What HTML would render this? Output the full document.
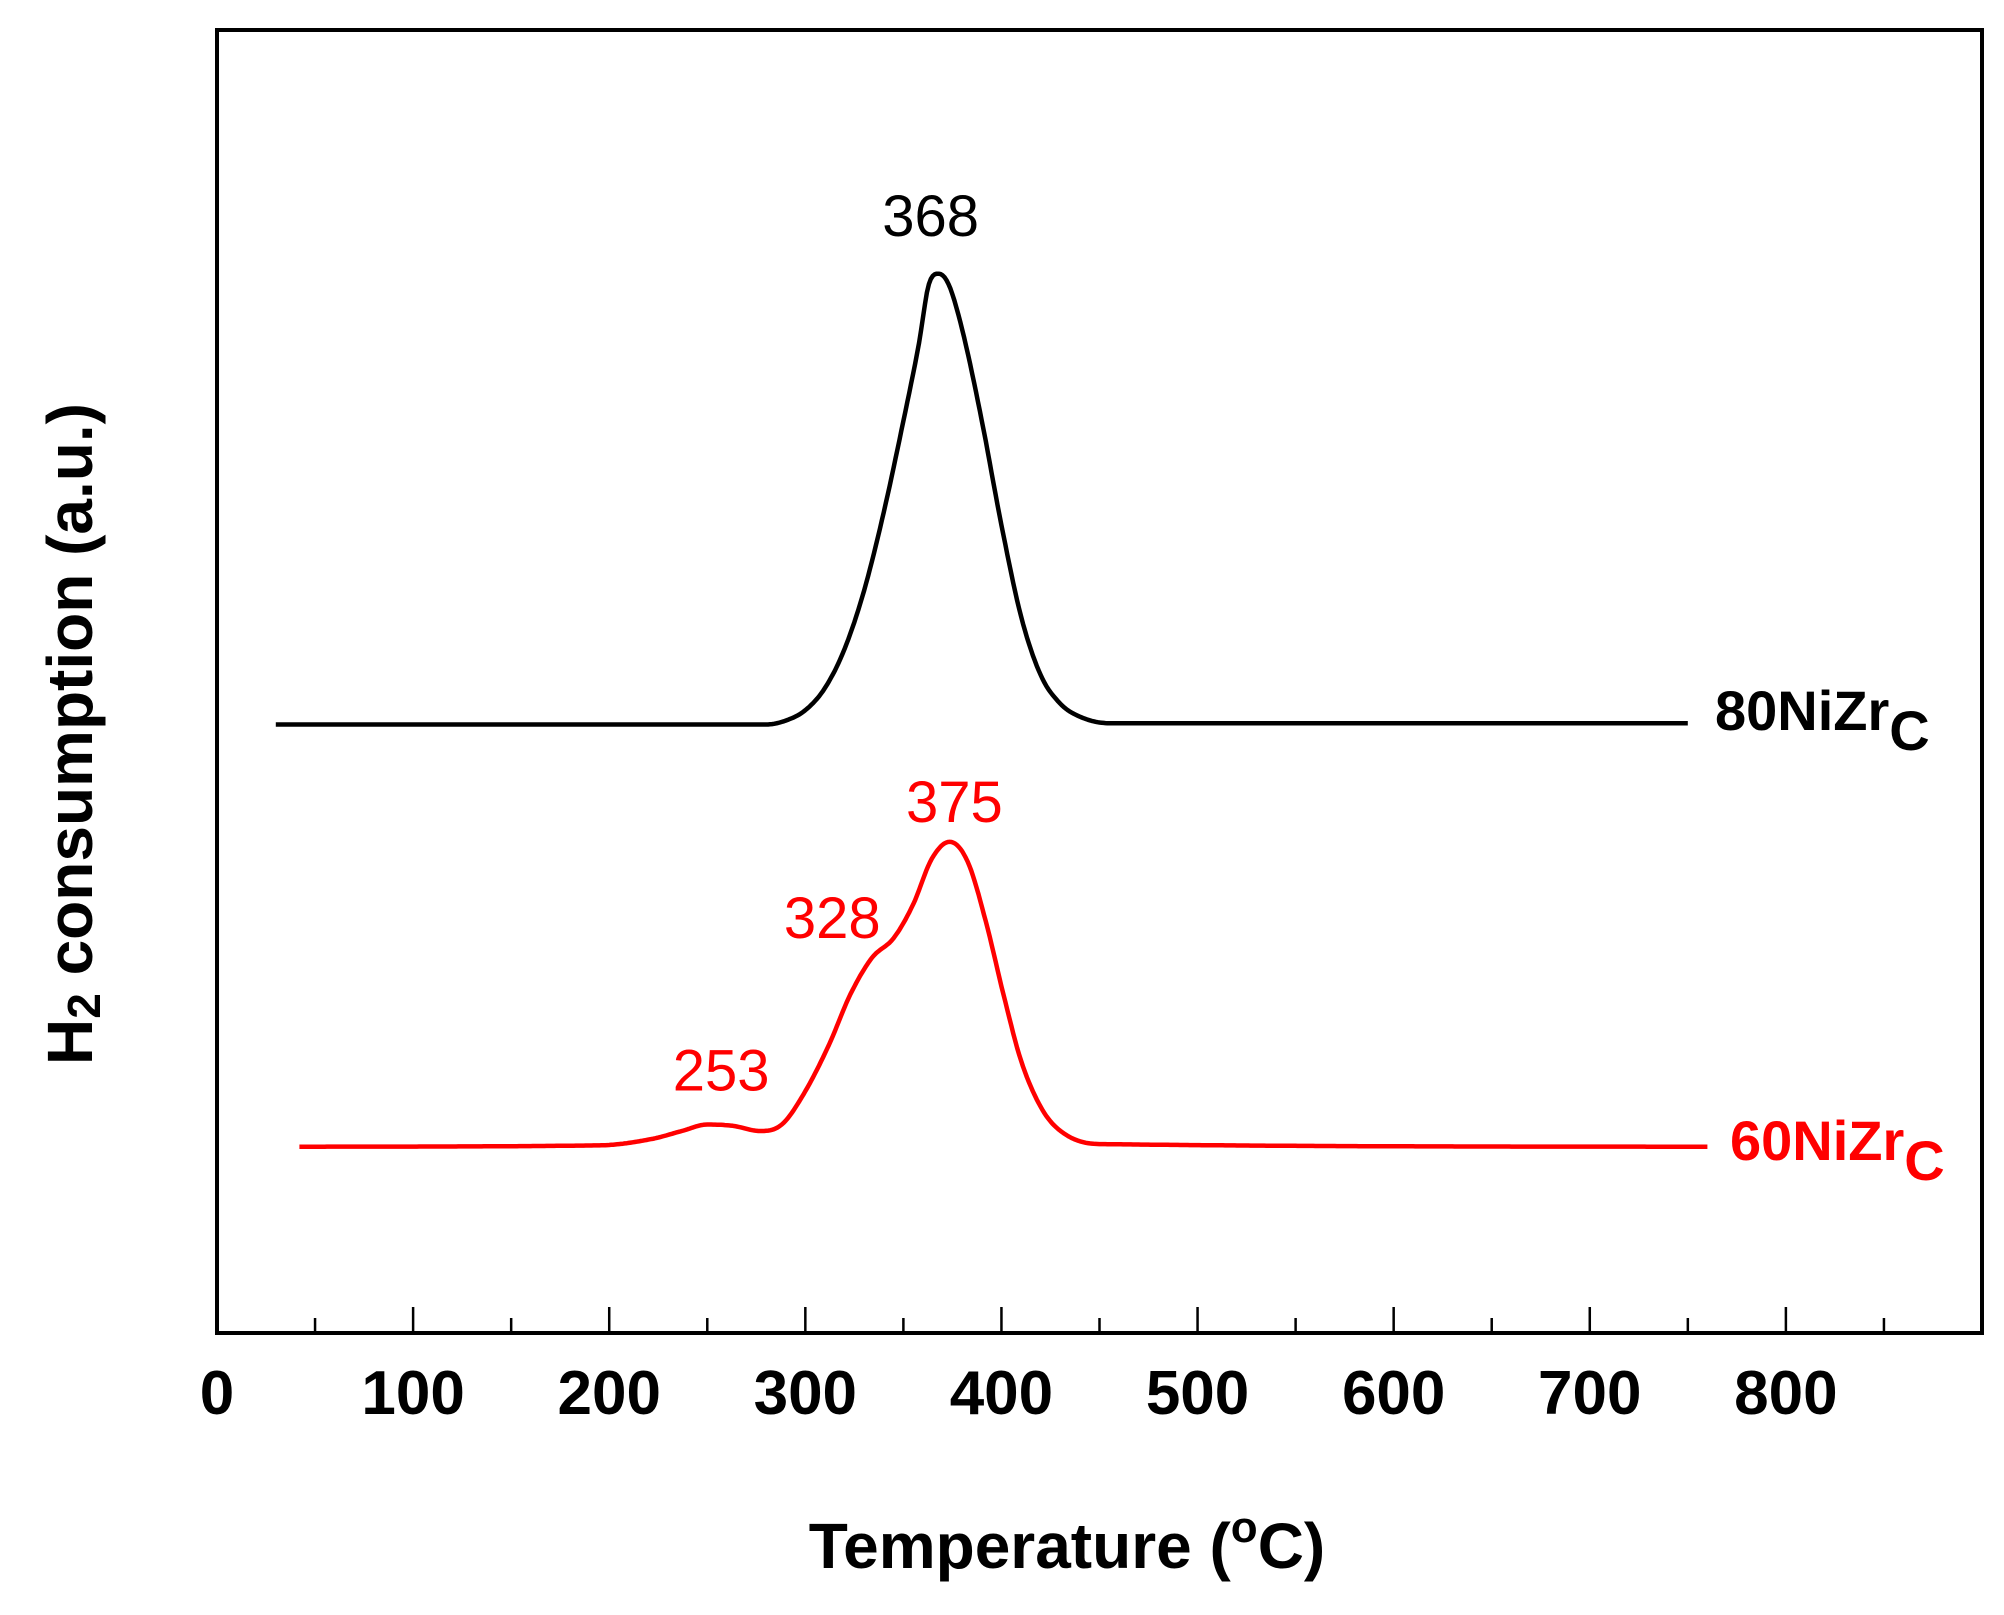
<!DOCTYPE html>
<html><head><meta charset="utf-8"><style>
html,body{margin:0;padding:0;background:#fff;}
svg{display:block;font-family:"Liberation Sans",Arial,sans-serif;}
</style></head><body>
<svg id="chart" width="2004" height="1615" viewBox="0 0 2004 1615">
<g id="axes"></g><g id="series"></g><g id="labels"></g>
<text x="70" y="734" transform="rotate(-90 70 734)" text-anchor="middle" dominant-baseline="central" font-size="64" font-weight="bold">H<tspan font-size="46" dy="14">2</tspan><tspan dy="-14"> consumption (a.u.)</tspan></text>
<text x="1067" y="1568" text-anchor="middle" font-size="64" font-weight="bold">Temperature (<tspan font-size="44" dy="-26">o</tspan><tspan dy="26">C)</tspan></text>
</svg>
<script>
const xTicks=[0,100,200,300,400,500,600,700,800];
const blackT=[30,280,290,300,310,320,330,340,350,358,363,368,373,380,390,400,410,420,430,440,455,750];
const blackY=[46.7,46.7,47.0,47.8,49.5,52.5,57,63,70,76,80.5,81.3,80.5,77,70,62,55,50.5,48.3,47.3,46.8,46.8];
const redT=[42,195,222,237,250,263,277,288,299,312,323,334,345,355,364.5,373.6,382.7,392,401,410,421,432,450,760];
const redY=[14.3,14.4,14.9,15.5,16.0,15.9,15.5,16.0,18.3,22.1,26.0,28.8,30.3,32.9,36.4,37.7,36.2,31.6,26,20.9,17.1,15.3,14.5,14.3];
const peakLabels=["368","375","328","253"];
const peakLabelT=[368,375,328,253];
const peakLabelY=[84.2,39.2,30.3,18.6];
const L=217,R=1982,T=30,B=1333,XMAX=900;
const sx=v=>L+v*(R-L)/XMAX, sy=v=>B-v*(B-T)/100;
const NS="http://www.w3.org/2000/svg";
function mk(tag,attrs,parent){const e=document.createElementNS(NS,tag);for(const k in attrs)e.setAttribute(k,attrs[k]);parent.appendChild(e);return e;}
const axes=document.getElementById('axes'),series=document.getElementById('series'),labels=document.getElementById('labels');
const frame=mk('rect',{x:L,y:T,width:R-L,height:B-T,fill:'none',stroke:'#000','stroke-width':4},axes);


for(let v=50;v<XMAX;v+=50){
  const major=v%100===0;
  const t=mk('line',{x1:sx(v),x2:sx(v),y1:B,y2:B-(major?26:15),stroke:'#000','stroke-width':2.5},axes);
  
  
}
xTicks.forEach(v=>{
  const t=mk('text',{x:sx(v),y:1414,'text-anchor':'middle','font-size':62,'font-weight':'bold'},labels);
  t.textContent=v;
  
  
});
// monotone cubic (Fritsch-Carlson) interpolation sampled into a polyline
function curve(xs,ys){
  const n=xs.length,d=[],m=new Array(n);
  for(let i=0;i<n-1;i++)d.push((ys[i+1]-ys[i])/(xs[i+1]-xs[i]));
  m[0]=d[0];m[n-1]=d[n-2];
  for(let i=1;i<n-1;i++)m[i]=(d[i-1]*d[i]<=0)?0:(d[i-1]+d[i])/2;
  for(let i=0;i<n-1;i++){
    if(d[i]===0){m[i]=0;m[i+1]=0;continue;}
    const a=m[i]/d[i],b=m[i+1]/d[i],s=a*a+b*b;
    if(s>9){const t=3/Math.sqrt(s);m[i]=t*a*d[i];m[i+1]=t*b*d[i];}
  }
  let path='M'+sx(xs[0]).toFixed(1)+','+sy(ys[0]).toFixed(1);
  for(let i=0;i<n-1;i++){
    const h=xs[i+1]-xs[i],steps=Math.max(2,Math.ceil(h/1));
    for(let k=1;k<=steps;k++){
      const t=k/steps,t2=t*t,t3=t2*t;
      const y=(2*t3-3*t2+1)*ys[i]+(t3-2*t2+t)*h*m[i]+(-2*t3+3*t2)*ys[i+1]+(t3-t2)*h*m[i+1];
      path+='L'+sx(xs[i]+t*h).toFixed(1)+','+sy(y).toFixed(1);
    }
  }
  return path;
}
const pb=mk('path',{d:curve(blackT,blackY),fill:'none',stroke:'#000','stroke-width':4.5,'stroke-linejoin':'round'},series);


const pr=mk('path',{d:curve(redT,redY),fill:'none',stroke:'#ff0000','stroke-width':4.5,'stroke-linejoin':'round'},series);


const offs=[-8,2,-28,8];
peakLabels.forEach((s,i)=>{
  const t=mk('text',{x:sx(peakLabelT[i])+offs[i],y:sy(peakLabelY[i]),'text-anchor':'middle','font-size':58,fill:i===0?'#000':'#ff0000'},labels);
  t.textContent=s;
  
  
});
const lb=mk('text',{x:1715,y:730,'font-size':56,'font-weight':'bold',fill:'#000'},labels);
lb.innerHTML='80NiZr<tspan dy="20">C</tspan>';


const lr=mk('text',{x:1730,y:1160,'font-size':56,'font-weight':'bold',fill:'#ff0000'},labels);
lr.innerHTML='60NiZr<tspan dy="20">C</tspan>';


</script>
</body></html>
